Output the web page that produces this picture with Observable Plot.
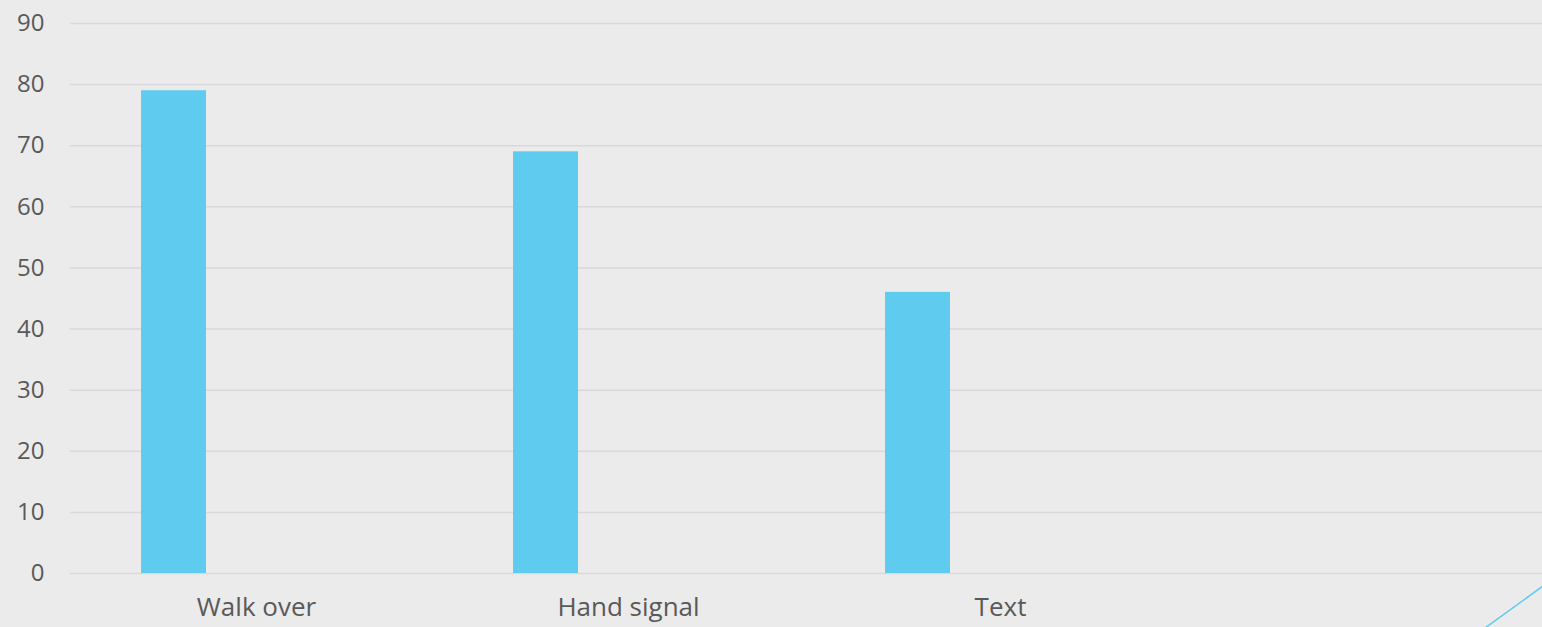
<!DOCTYPE html>
<html>
<head>
<meta charset="utf-8">
<script src="https://cdn.jsdelivr.net/npm/d3@7"></script>
<script src="https://cdn.jsdelivr.net/npm/@observablehq/plot@0.6"></script>
<style>
  html, body { margin: 0; padding: 0; background: #ebebeb; overflow: hidden; }
  #chart { position: relative; width: 1542px; height: 627px; }
  #chart svg.deco { position: absolute; left: 0; top: 0; pointer-events: none; }
</style>
</head>
<body>
<div id="chart"></div>
<script>
// Survey responses by method
const categories = ["Walk over", "Hand signal", "Text", ""];
const values = [79, 69, 46, null];
const yTicks = [0, 10, 20, 30, 40, 50, 60, 70, 80, 90];

const data = categories.map((c, i) => ({category: c, value: values[i]}));

const W = 1542, H = 627;
const textColor = "#595959";
const barColor = "#5fcbef";
const font = "'Open Sans', sans-serif";

const plot = Plot.plot({
  width: W,
  height: H,
  marginLeft: 70,
  marginRight: 0,
  marginTop: 23,
  marginBottom: 54,
  style: {background: "#ebebeb", fontFamily: font, maxWidth: "none", overflow: "hidden"},
  x: {type: "band", domain: categories, range: [70, 1558], padding: 0},
  y: {domain: [0, 90], range: [573, 23]},
  marks: [
    Plot.gridY(yTicks, {stroke: "#d9d9d9", strokeOpacity: 1, strokeWidth: 1.5}),
    Plot.barY(data.filter(d => d.value != null), {
      x: "category", y: "value", fill: barColor,
      insetLeft: 71, insetRight: 236
    }),
    Plot.axisY(yTicks, {
      tickSize: 0, tickPadding: 26, fontSize: 24, fill: textColor, label: null
    }),
    Plot.axisX({
      tickSize: 0, tickPadding: 24.5, fontSize: 26, fill: textColor, label: null
    })
  ]
});

const chart = document.getElementById("chart");
chart.appendChild(plot);

// Decorative accent line in the lower-right corner
const deco = d3.select(chart).append("svg")
  .attr("class", "deco").attr("width", W).attr("height", H);
deco.append("line")
  .attr("x1", 1485).attr("y1", 628).attr("x2", 1543).attr("y2", 586)
  .attr("stroke", barColor).attr("stroke-width", 1.5);
</script>
</body>
</html>
